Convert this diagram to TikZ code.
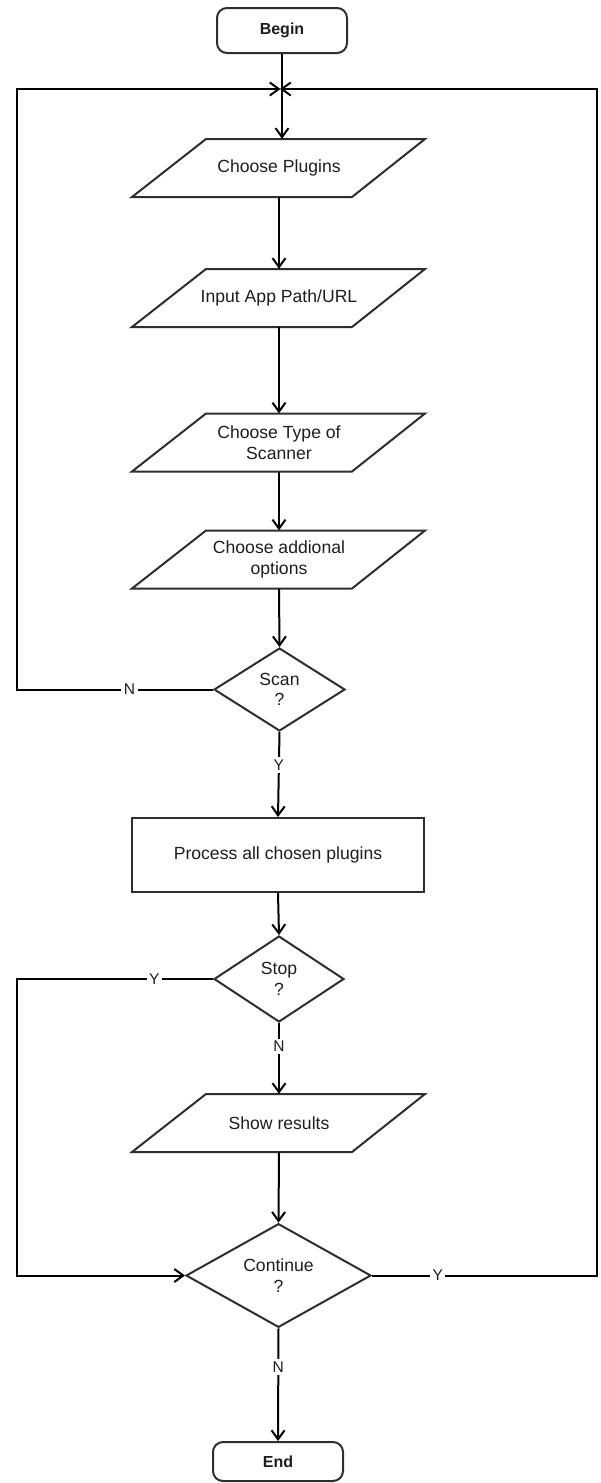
\documentclass[tikz,border=0pt]{standalone}
\usepackage{fontspec}
\setmainfont{Liberation Sans}
\usetikzlibrary{arrows.meta,shapes.geometric}
\definecolor{edge}{HTML}{2e2e2e}
\definecolor{ink}{HTML}{1e1e1e}
\begin{document}
\begin{tikzpicture}[x=1pt,y=-1pt,
  every node/.style={text=ink, font=\fontsize{17.6}{20.5}\selectfont},
  terminal/.style={draw=edge, line width=2pt, rounded corners=10pt,
    minimum width=130pt, minimum height=45pt, inner sep=0pt,
    font=\fontsize{16}{19}\selectfont\bfseries},
  iobody/.style={minimum width=146pt, minimum height=58pt, inner sep=0pt, align=center},
  iobox/.style={draw=edge, line width=2pt, line join=miter},
  process/.style={draw=edge, line width=2pt, minimum width=292pt,
    minimum height=74pt, inner sep=0pt},
  decision/.style={draw=edge, line width=2pt, diamond, inner sep=0pt, align=center},
  flow/.style={line width=2pt, draw=black},
  arr/.style={flow, -{Straight Barb[length=9pt,width=13pt]}},
  lbl/.style={fill=white, inner sep=2.5pt, font=\fontsize{15.5}{18}\selectfont}
]
% canvas
\fill[white] (0,0) rectangle (600,1483);
\useasboundingbox (0,0) rectangle (600,1483);

% nodes
\node[terminal] (begin) at (282,30.5) {Begin};
\coordinate (junc) at (282,89);
\coordinate (railL) at (17,89);
\coordinate (railR) at (597,89);
\node[iobody] (plug) at (279,168) {Choose Plugins};
\node[iobody] (path) at (279,298) {Input App Path/URL};
\node[iobody] (stype) at (279,442.5) {Choose Type of\\Scanner};
\node[iobody] (opts) at (279,559.5) {Choose addional\\options};
\node[decision, minimum width=131pt, minimum height=83pt] (scan) at (279.5,689.5) {Scan\\?};
\node[process] (proc) at (278,855) {Process all chosen plugins};
\node[decision, minimum width=130pt, minimum height=86pt] (stop) at (279,979) {Stop\\?};
\node[iobody] (show) at (279,1123) {Show results};
\node[decision, minimum width=185pt, minimum height=101pt] (cont) at (278.5,1275.5) {Continue\\?};
\node[terminal, minimum height=39pt] (end) at (278,1461.5) {End};

% input/output parallelograms around their text nodes
\foreach \n in {plug,path,stype,opts,show}
  \draw[iobox] ([shift={(-147,29)}]\n.center) -- ([shift={(73,29)}]\n.center)
    -- ([shift={(146,-29)}]\n.center) -- ([shift={(-73,-29)}]\n.center) -- cycle;

% main flow
\draw[arr] (begin.south) -- (junc) -- (junc |- plug.north);
\draw[arr] (plug.south) -- (path.north);
\draw[arr] (path.south) -- (stype.north);
\draw[arr] (stype.south) -- (opts.north);
\draw[arr] (opts.south) -- (scan.north);
\draw[arr] (scan.south) -- node[lbl, pos=0.39]{Y} (proc.north);
\draw[arr] (proc.south) -- (stop.north);
\draw[arr] (stop.south) -- node[lbl, pos=0.33]{N} (show.north);
\draw[arr] (show.south) -- (cont.north);
\draw[arr] (cont.south) -- node[lbl, pos=0.345]{N} (end.north);

% loops back to the top and down to the continue check
\draw[arr, shorten >=1.5pt] (scan.west) -- node[lbl, pos=0.426]{N} (scan.west -| railL)
  -- (railL) -- (junc);
\draw[arr] (stop.west) -- node[lbl, pos=0.30]{Y} (stop.west -| railL)
  -- (railL |- cont.west) -- (cont.west);
\draw[arr, shorten >=-2pt] (cont.east) -- node[lbl, pos=0.292]{Y} (cont.east -| railR)
  -- (railR) -- (junc);
\end{tikzpicture}
\end{document}
